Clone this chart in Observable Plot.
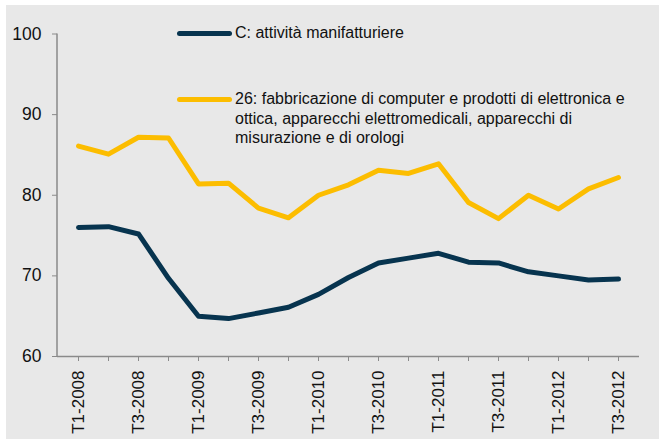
<!DOCTYPE html>
<html>
<head>
<meta charset="utf-8">
<script src="https://cdn.jsdelivr.net/npm/d3@7"></script>
<script src="https://cdn.jsdelivr.net/npm/@observablehq/plot@0.6"></script>
<style>
  body { margin: 0; background: #ffffff; }
  #wrap { position: absolute; left: 6px; top: 5px; width: 653px; height: 434px; background: #e8e8e8; font-family: "Liberation Sans", Arial, Helvetica, sans-serif; }
  .leg { position: absolute; left: 171px; font-size: 16px; color: #111; line-height: 19.5px; }
  .sw { position: absolute; left: 0; width: 55px; height: 5px; border-radius: 3px; }
  .lt { position: absolute; left: 58px; white-space: nowrap; }
</style>
</head>
<body>
<div id="wrap"></div>
<script>
const quarters = [
  "T1-2008","T2-2008","T3-2008","T4-2008",
  "T1-2009","T2-2009","T3-2009","T4-2009",
  "T1-2010","T2-2010","T3-2010","T4-2010",
  "T1-2011","T2-2011","T3-2011","T4-2011",
  "T1-2012","T2-2012","T3-2012"
];
const xTickLabels = ["T1-2008","T3-2008","T1-2009","T3-2009","T1-2010","T3-2010","T1-2011","T3-2011","T1-2012","T3-2012"];
const yTicks = [60, 70, 80, 90, 100];

const seriesNames = [
  "C: attività manifatturiere",
  "26: fabbricazione di computer e prodotti di elettronica e ottica, apparecchi elettromedicali, apparecchi di misurazione e di orologi"
];
const seriesColors = ["#07344f", "#fcbd00"];

const manifatturiere = [76.0, 76.1, 75.2, 69.7, 65.0, 64.7, 65.4, 66.1, 67.7, 69.8, 71.6, 72.2, 72.8, 71.7, 71.6, 70.5, 70.0, 69.5, 69.6];
const elettronica = [86.1, 85.1, 87.2, 87.1, 81.4, 81.5, 78.4, 77.2, 80.0, 81.3, 83.1, 82.7, 83.9, 79.1, 77.1, 80.0, 78.3, 80.8, 82.2];

const rows = [];
[manifatturiere, elettronica].forEach((vals, s) => {
  vals.forEach((v, i) => rows.push({ q: quarters[i], v, s: seriesNames[s] }));
});

const labelSet = new Set(xTickLabels);
const axisGray = "#8a8a8a";

const yAxisLine = (index, scales, values, dims) => {
  const g = d3.create("svg:g");
  g.append("line")
    .attr("x1", dims.marginLeft).attr("x2", dims.marginLeft)
    .attr("y1", scales.y(100)).attr("y2", dims.height - dims.marginBottom)
    .attr("stroke", axisGray).attr("stroke-width", 1.5);
  return g.node();
};

const chart = Plot.plot({
  width: 653,
  height: 434,
  marginLeft: 51,
  marginRight: 20,
  marginTop: 28.5,
  marginBottom: 83,
  style: { background: "transparent", fontFamily: "'Liberation Sans', Arial, Helvetica, sans-serif", fontSize: "17px", color: "#111" },
  x: { type: "point", domain: quarters, padding: 0.5, label: null },
  y: { domain: [60, 100], label: null },
  color: { domain: seriesNames, range: seriesColors },
  marks: [
    Plot.ruleY([60], { stroke: axisGray, strokeWidth: 1.5 }),
    yAxisLine,
    Plot.axisY({ ticks: yTicks, tickSize: 5, tickPadding: 11, stroke: axisGray, fill: "#111", fontSize: 17.5, label: null }),
    Plot.axisX({ ticks: quarters, tickSize: 5, tickPadding: 9, tickRotate: -90, stroke: axisGray, fill: "#111", fontSize: 17, label: null,
      tickFormat: d => labelSet.has(d) ? d : "" }),
    Plot.line(rows, { x: "q", y: "v", z: "s", stroke: "s", strokeWidth: 5 })
  ]
});

const wrap = document.getElementById("wrap");
wrap.appendChild(chart);

// legend overlay
const legendTops = [28, 94];
const legendText = [
  [seriesNames[0]],
  ["26: fabbricazione di computer e prodotti di elettronica e", "ottica, apparecchi elettromedicali, apparecchi di", "misurazione e di orologi"]
];
seriesNames.forEach((name, i) => {
  const d = document.createElement("div");
  d.className = "leg";
  d.style.top = (legendTops[i] - 10) + "px";
  const sw = document.createElement("div");
  sw.className = "sw";
  sw.style.background = seriesColors[i];
  sw.style.top = "7.5px";
  d.appendChild(sw);
  const t = document.createElement("div");
  t.className = "lt";
  t.innerHTML = legendText[i].join("<br>");
  d.appendChild(t);
  wrap.appendChild(d);
});
</script>
</body>
</html>
